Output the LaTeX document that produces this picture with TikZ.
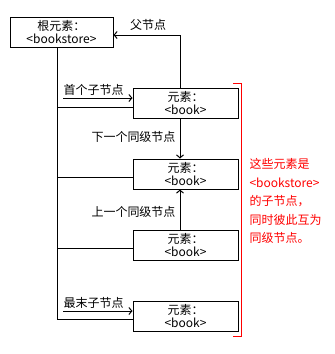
\documentclass[tikz,border=0pt]{standalone}
\usepackage{fontspec}
\setmainfont{Noto Sans CJK SC}
\usetikzlibrary{arrows.meta}
\begin{document}
\begin{tikzpicture}[x=1pt,y=-1pt, line width=1pt,
  box/.style={draw, minimum width=105pt, minimum height=30pt, inner sep=0pt, align=center, font=\fontsize{12}{13.5}\selectfont},
  lbl/.style={font=\fontsize{12}{13.5}\selectfont, inner sep=0pt},
  arr/.style={-{Straight Barb[length=3pt,width=7pt]}},
  redtxt/.style={text=red, align=left, inner sep=0pt, font=\fontsize{12}{18.5}\selectfont}]
\useasboundingbox (0,0) rectangle (335,354);
\node[box, minimum width=103pt] (root) at (61.5,32) {根元素：\\<bookstore>};
\node[box] (b1) at (185.5,103) {元素：\\<book>};
\node[box] (b2) at (185.5,174) {元素：\\<book>};
\node[box] (b3) at (185.5,245) {元素：\\<book>};
\node[box] (b4) at (185.5,316) {元素：\\<book>};
\coordinate (trunk) at (57,0);
\coordinate (vx) at (180,0);
% tree lines
\draw (root.south -| trunk) -- ([yshift=-3.5pt]b4.west -| trunk) -- ([yshift=-3.5pt]b4.west);
\draw ([yshift=-4pt]b1.west -| trunk) -- ([yshift=-4pt]b1.west);
\draw ([yshift=-3.5pt]b2.west -| trunk) -- ([yshift=-3.5pt]b2.west);
\draw ([yshift=-3.5pt]b3.west -| trunk) -- ([yshift=-3.5pt]b3.west);
% parent arrow
\draw[arr] (b1.north -| vx) |- ([yshift=-3pt]root.east);
\node[lbl] (lp) at (148,25) {父节点};
% first / last child arrows
\coordinate (a1s) at (63,98);
\coordinate (a4s) at (63,311);
\draw[arr] (a1s) -- (a1s -| b1.west);
\draw[arr] (a4s) -- (a4s -| b4.west);
\node[lbl, anchor=west] (lf) at (63,90) {首个子节点};
\node[lbl, anchor=west] (ll) at (63,303) {最末子节点};
% sibling arrows
\draw[arr] (b1.south -| vx) -- (b2.north -| vx);
\draw[arr] (b3.north -| vx) -- (b2.south -| vx);
\node[lbl, anchor=east] (ln) at (176,137) {下一个同级节点};
\node[lbl, anchor=east] (lprev) at (176,212) {上一个同级节点};
% red bracket
\draw[red] (233,83) -- (241,83) -- (241,336) -- (233,336);
\node[redtxt, anchor=north west] (note) at (249,158) {这些元素是\\<bookstore>\\的子节点，\\同时彼此互为\\同级节点。};
\end{tikzpicture}
\end{document}
